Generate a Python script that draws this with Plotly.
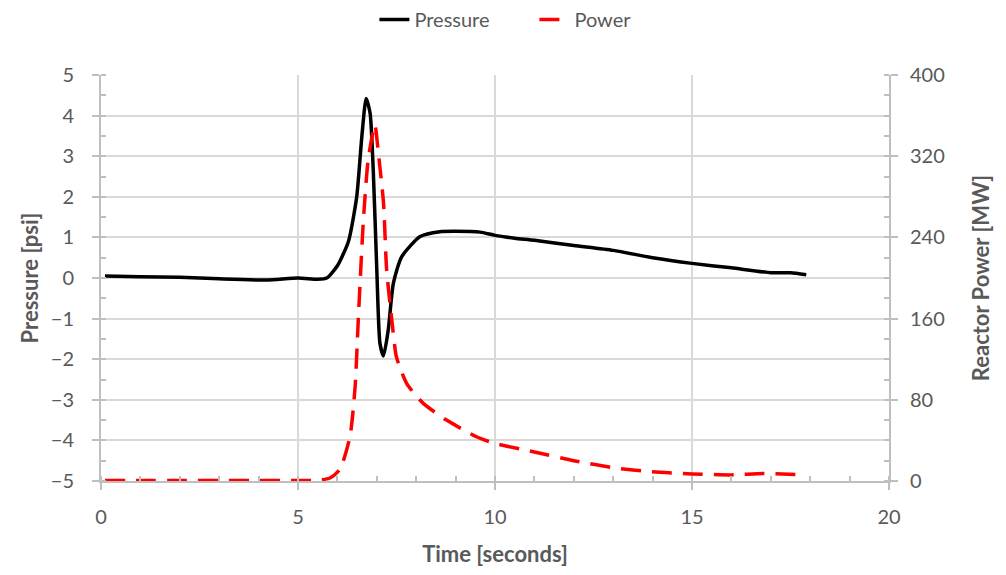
import plotly.graph_objects as go

# Pressure [psi] vs time [s]
p_time = [0.1, 1.0, 2.0, 3.0, 4.2, 5.0, 5.5, 5.73, 6.0, 6.28, 6.49, 6.62, 6.73, 6.83, 6.91, 7.0, 7.08,
          7.17, 7.29, 7.42, 7.63, 8.1, 8.6, 9.0, 9.62, 10.0, 10.5, 11.0, 12.0, 13.0, 14.0, 15.0,
          16.0, 17.0, 17.5, 17.9]
p_vals = [0.05, 0.03, 0.02, -0.02, -0.05, 0.0, -0.03, 0.0, 0.3, 0.9, 2.0, 3.48, 4.42, 4.06, 2.66, 0.2, -1.61,
          -1.92, -1.28, -0.13, 0.52, 1.02, 1.14, 1.15, 1.13, 1.05, 0.98, 0.93, 0.8, 0.68, 0.5, 0.36,
          0.25, 0.13, 0.13, 0.08]

# Reactor power [MW] vs time [s]
w_time = [0.1, 1.0, 2.0, 3.0, 4.0, 5.0, 5.5, 5.81, 6.07, 6.32, 6.45, 6.53, 6.66, 6.78, 6.95, 7.04, 7.17,
          7.25, 7.38, 7.5, 7.76, 8.18, 8.77, 9.53, 10.0, 11.0, 12.0, 13.0, 14.0, 15.0, 16.0, 16.8, 17.9]
w_vals = [0.5, 0.5, 0.5, 0.5, 0.5, 0.5, 0.8, 3, 12, 44, 93, 159, 257, 316, 351, 323, 274,
          208, 159, 122, 96, 76.5, 60, 43.6, 37, 28.6, 20, 13, 9, 7, 6, 7.4, 6]

GRAY_TXT = "#595959"
AXIS = "#bfbfbf"
GRID = "#d9d9d9"
FONT = "Lato"
TICK_SIZE = 20
TITLE_SIZE = 22

fig = go.Figure()
fig.add_trace(go.Scatter(x=p_time, y=p_vals, name="Pressure", mode="lines",
                         line=dict(color="black", width=3.5, shape="spline", smoothing=0.6)))
fig.add_trace(go.Scatter(x=w_time, y=w_vals, name="Power", mode="lines", yaxis="y2",
                         line=dict(color="#ff0000", width=3.5, dash="20px,11px", shape="spline", smoothing=0.6)))

fig.update_layout(
    width=1006, height=575,
    margin=dict(l=101, r=117, t=75, b=94),
    paper_bgcolor="white", plot_bgcolor="white",
    font=dict(family=FONT, color=GRAY_TXT, size=TICK_SIZE),
    showlegend=True,
    legend=dict(orientation="h", x=0.55, xanchor="center", y=1.0, yref="container", yanchor="top",
                font=dict(size=TICK_SIZE, color=GRAY_TXT), entrywidth=115, entrywidthmode="pixels",
                traceorder="normal"),
    xaxis=dict(range=[0, 20], dtick=5, tick0=0, showgrid=True, gridcolor=GRID, gridwidth=1.5,
               showline=True, linecolor=AXIS, linewidth=2, zeroline=False,
               ticks="outside", ticklen=7, tickcolor=AXIS, tickwidth=1.5, ticklabelstandoff=10,
               minor=dict(dtick=1, ticks="inside", ticklen=5, tickcolor=AXIS, showgrid=False),
               title=dict(text="<b>Time [seconds]</b>", font=dict(size=TITLE_SIZE, color=GRAY_TXT), standoff=20),
               tickfont=dict(size=TICK_SIZE, color=GRAY_TXT)),
    yaxis=dict(range=[-5, 5], dtick=1, tick0=0, showgrid=True, gridcolor=GRID, gridwidth=1.5,
               showline=True, linecolor=AXIS, linewidth=2, zeroline=False,
               ticks="outside", ticklen=7, tickcolor=AXIS, tickwidth=1.5, ticklabelstandoff=14,
               minor=dict(dtick=0.5, ticks="inside", ticklen=5, tickcolor=AXIS, showgrid=False),
               title=dict(text="<b>Pressure [psi]</b>", font=dict(size=TITLE_SIZE, color=GRAY_TXT), standoff=6),
               tickfont=dict(size=TICK_SIZE, color=GRAY_TXT)),
    yaxis2=dict(range=[0, 400], dtick=80, tick0=0, overlaying="y", side="right", showgrid=False,
                showline=True, linecolor=AXIS, linewidth=2, zeroline=False,
                ticks="outside", ticklen=7, tickcolor=AXIS, tickwidth=1.5, ticklabelstandoff=8,
                minor=dict(dtick=20, ticks="inside", ticklen=5, tickcolor=AXIS, showgrid=False),
                title=dict(text="<b>Reactor Power [MW]</b>", font=dict(size=TITLE_SIZE, color=GRAY_TXT), standoff=30),
                tickfont=dict(size=TICK_SIZE, color=GRAY_TXT)),
)

fig.write_html("out.html")
